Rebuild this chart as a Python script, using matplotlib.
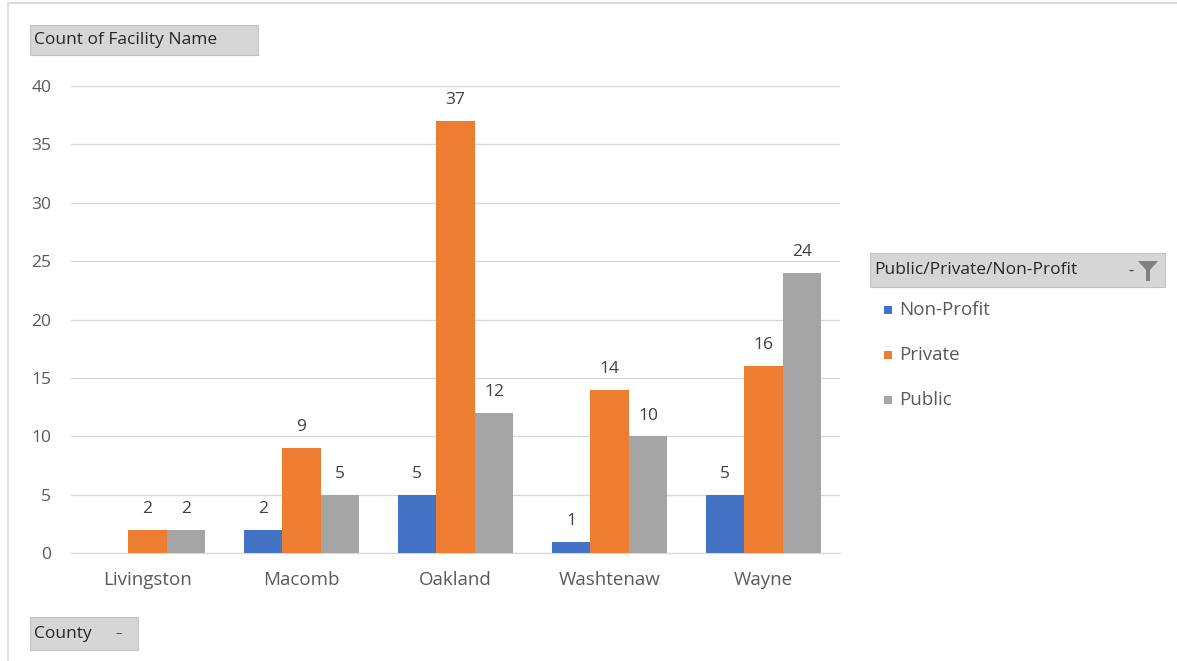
import numpy as np
import matplotlib.pyplot as plt
from matplotlib.patches import Rectangle, Polygon
from matplotlib.lines import Line2D

plt.rcParams['font.family'] = ['Open Sans', 'DejaVu Sans']

counties = ['Livingston', 'Macomb', 'Oakland', 'Washtenaw', 'Wayne']
non_profit = [0, 2, 5, 1, 5]
private = [2, 9, 37, 14, 16]
public = [2, 5, 12, 10, 24]

series = [('Non-Profit', non_profit, '#4472C4'),
          ('Private', private, '#ED7D31'),
          ('Public', public, '#A5A5A5')]

W, H = 1177, 661
fig = plt.figure(figsize=(W / 100, H / 100), dpi=100)
ax = fig.add_axes([0.060, 0.163, 0.654, 0.707])

x = np.arange(len(counties))
w = 0.25
for i, (name, vals, col) in enumerate(series):
    pos = x + (i - 1) * w
    ax.bar(pos, vals, width=w, color=col, zorder=3)
    for p, v in zip(pos, vals):
        if v > 0:
            ax.text(p, v + 1.1, str(v), ha='center', va='bottom',
                    fontsize=12.5, color='#404040')

ax.set_xlim(-0.5, 4.5)
ax.set_ylim(0, 40)
ax.set_yticks(range(0, 41, 5))
ax.grid(axis='y', color='#d9d9d9', linewidth=1, zorder=0)
for s in ['top', 'right', 'left']:
    ax.spines[s].set_visible(False)
ax.spines['bottom'].set_color('#d9d9d9')
ax.tick_params(axis='both', length=0, colors='#595959', labelsize=12.5)
ax.tick_params(axis='y', pad=14)
ax.tick_params(axis='x', pad=13, labelsize=13.5)
ax.set_xticks(x)
ax.set_xticklabels(counties)


def px(xp, yp):
    return xp / W, 1 - yp / H


# pivot field buttons
def button(x0, y0, wd, ht, label, size=12.5):
    fig.patches.append(Rectangle(px(x0, y0 + ht), wd / W, ht / H,
                                 transform=fig.transFigure, facecolor='#d6d6d6',
                                 edgecolor='#c4c4c4', linewidth=0.8))
    fig.text(*px(x0 + 4, y0 + ht / 2), label, ha='left', va='center',
             fontsize=size, color='#262626')


button(30, 25, 228, 30, 'Count of Facility Name')
button(30, 617, 108, 33, 'County')
fig.text(*px(116, 634), '\u2013', fontsize=9, color='#404040', va='center')
button(870, 253, 295, 34, 'Public/Private/Non-Profit')
fig.text(*px(1128, 272), '-', fontsize=12, color='#404040', va='center')
funnel = [(1138, 261), (1158, 261), (1150, 270), (1150, 281), (1146, 281), (1146, 270)]
fig.patches.append(Polygon([px(a, b) for a, b in funnel], closed=True,
                           transform=fig.transFigure, facecolor='#808080', edgecolor='none'))

# legend
for j, (name, vals, col) in enumerate(series):
    yc = 310 + j * 45
    fig.patches.append(Rectangle(px(884, yc + 4), 8 / W, 8 / H,
                                 transform=fig.transFigure, facecolor=col, edgecolor='none'))
    fig.text(*px(899, yc), name, ha='left', va='center',
             fontsize=13.5, color='#595959')

# faint frame, top and left edges
fig.add_artist(Line2D([8 / W, 1], [1 - 3 / H, 1 - 3 / H], color='#d9d9d9', linewidth=1.5))
fig.add_artist(Line2D([8 / W, 8 / W], [0, 1 - 3 / H], color='#e3e3e3', linewidth=1.5))

fig.savefig('out.png', dpi=100, facecolor='white')
